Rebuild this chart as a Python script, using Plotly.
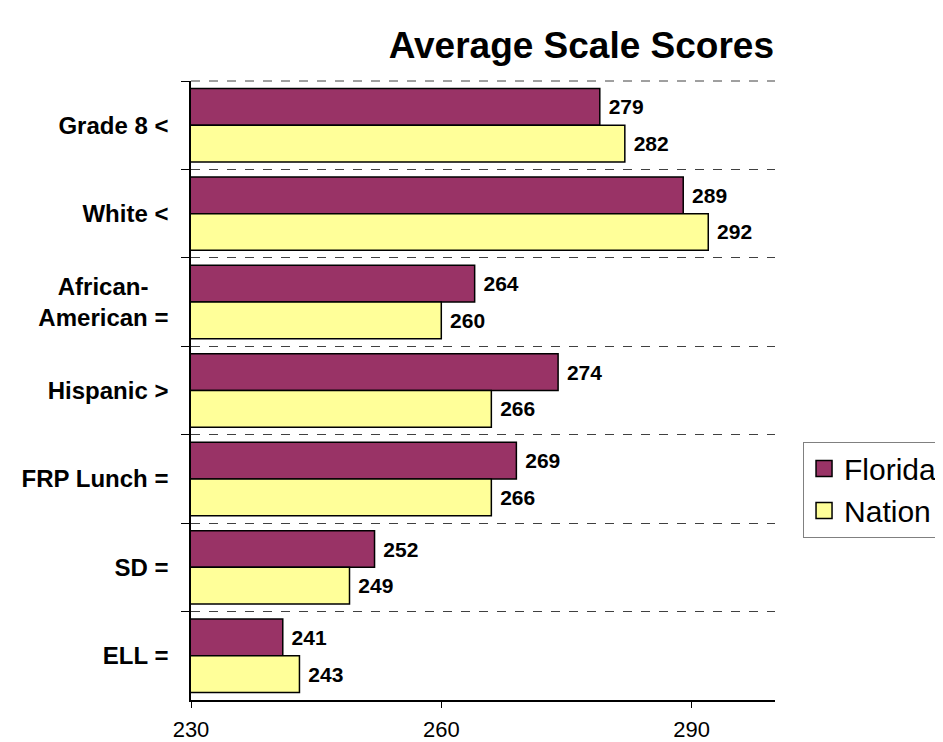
import plotly.graph_objects as go

# categories (top to bottom) and the two series
groups = ["Grade 8 <", "White <", "African-\u00a0\u00a0\u00a0<br>American =", "Hispanic >",
          "FRP Lunch =", "SD =", "ELL ="]
florida = [279, 289, 264, 274, 269, 252, 241]
nation = [282, 292, 260, 266, 266, 249, 243]
x_ticks = [230, 260, 290]

FONT = "Arial, Liberation Sans, sans-serif"
COLORS = {"Florida": "#993366", "Nation": "#FFFF99"}

fig = go.Figure()
for name, vals in [("Florida", florida), ("Nation", nation)]:
    fig.add_trace(go.Bar(
        name=name, y=groups, x=vals, orientation="h",
        marker=dict(color=COLORS[name], line=dict(color="black", width=1.5)),
        texttemplate="\u00a0%{x}", textposition="outside",
        textfont=dict(family=FONT, size=21, color="black", weight="bold"),
        cliponaxis=False, showlegend=False,
    ))

# legend entries with bigger square keys
for name in ["Florida", "Nation"]:
    fig.add_trace(go.Scatter(
        name=name, x=[None], y=[None], mode="markers",
        marker=dict(symbol="square", size=16, color=COLORS[name],
                    line=dict(color="black", width=1.5)),
    ))

# dashed boundary along the top of the plot area
fig.add_shape(type="line", xref="paper", yref="paper", x0=0, x1=1, y0=1, y1=1,
              line=dict(color="#404040", width=1, dash="dash"))

# page body has an 8px margin, so the figure is laid out 8px up/left
fig.update_layout(
    width=943, height=742,
    paper_bgcolor="white", plot_bgcolor="white",
    margin=dict(l=183, r=176, t=73, b=50, autoexpand=False),
    barmode="group", bargap=0.17, bargroupgap=0,
    font=dict(family=FONT, color="black"),
    title=dict(text="<b>Average Scale Scores</b>", x=0.608, xanchor="center",
               y=0.95, yanchor="middle", font=dict(size=37, family=FONT)),
    xaxis=dict(range=[230, 300], tickvals=x_ticks, showgrid=False, zeroline=False,
               showline=True, linecolor="black", linewidth=1.5,
               ticks="outside", ticklen=6, tickcolor="black",
               ticklabelstandoff=3, automargin=False,
               tickfont=dict(size=22, family=FONT)),
    yaxis=dict(autorange="reversed", tickson="boundaries",
               showline=True, linecolor="black", linewidth=1.5,
               ticks="outside", ticklen=8, tickcolor="black",
               showgrid=True, gridcolor="#404040", griddash="dash", gridwidth=1,
               ticklabelstandoff=16, automargin=False,
               tickfont=dict(size=24, family=FONT, weight="bold")),
    legend=dict(x=1.048, xanchor="left", y=0.34, yanchor="middle",
                bordercolor="#808080", borderwidth=1, bgcolor="white",
                font=dict(size=30, family=FONT), traceorder="normal",
                itemsizing="trace", itemwidth=30),
    showlegend=True,
)

fig.write_html("out.html")
